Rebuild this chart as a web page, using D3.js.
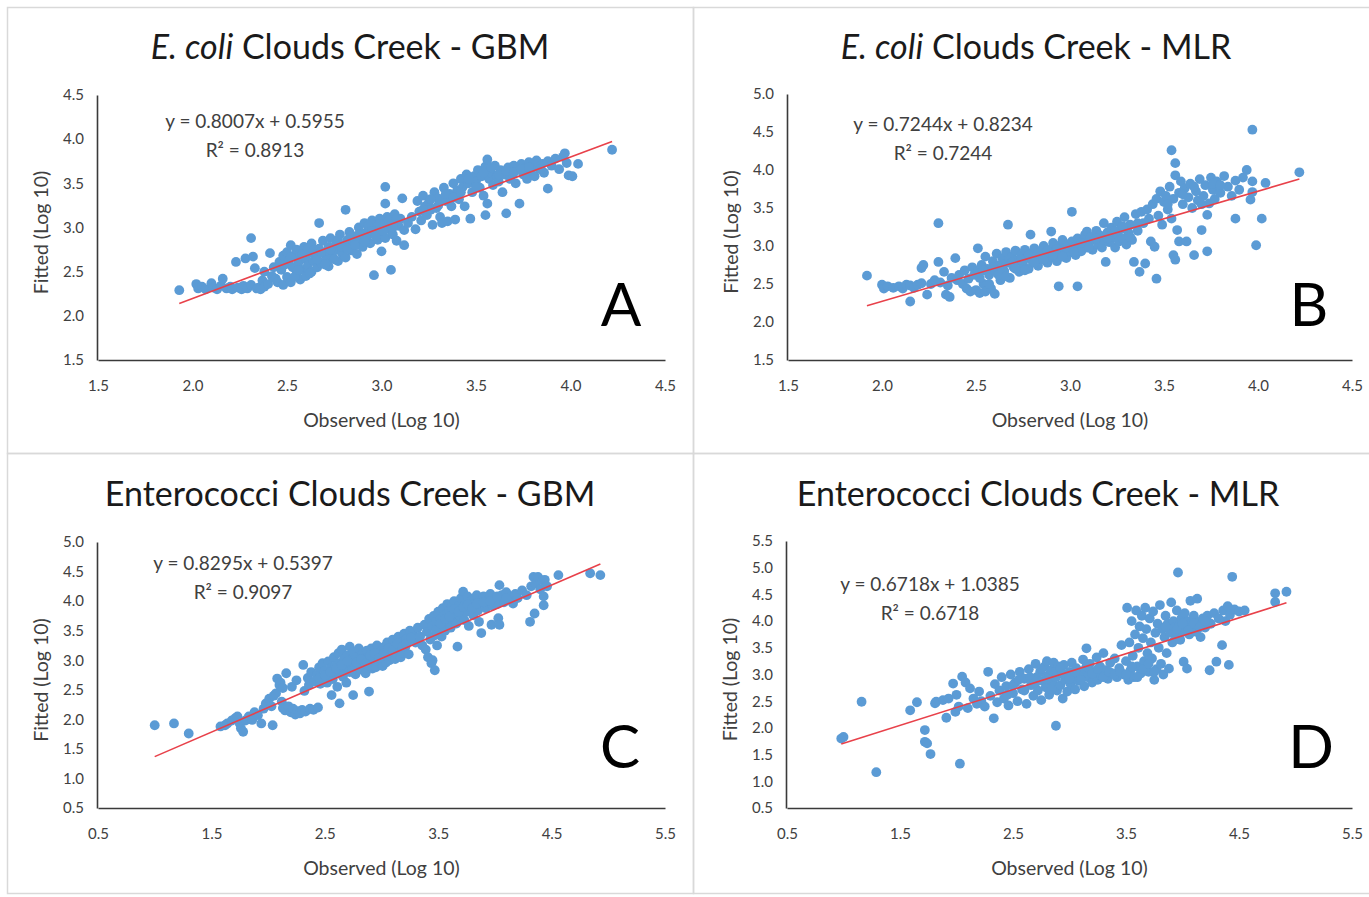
<!DOCTYPE html>
<html>
<head>
<meta charset="utf-8">
<script src="https://cdn.jsdelivr.net/npm/d3@7"></script>
<style>
  body { margin: 0; background: #fff; }
  text { font-family: Lato, "Open Sans", sans-serif; }
</style>
</head>
<body>
<div id="chart-area"></div>
<script>
// observed / fitted pairs (log 10)
var ecoliGbm = [
  [1.93,2.29],[2.02,2.36],[2.03,2.31],[2.05,2.33],[2.07,2.30],[2.10,2.37],[2.11,2.32],[2.13,2.30],[2.15,2.34],[2.16,2.42],
  [2.18,2.31],[2.20,2.33],[2.21,2.30],[2.23,2.61],[2.24,2.32],[2.26,2.30],[2.27,2.34],[2.28,2.65],[2.29,2.31],[2.31,2.88],
  [2.31,2.35],[2.32,2.67],[2.33,2.54],[2.34,2.31],[2.35,2.32],[2.36,2.30],[2.37,2.40],[2.38,2.50],[2.38,2.33],[2.40,2.36],
  [2.41,2.71],[2.42,2.45],[2.43,2.55],[2.44,2.42],[2.45,2.38],[2.46,2.61],[2.47,2.52],[2.48,2.68],[2.48,2.35],[2.49,2.58],
  [2.50,2.72],[2.50,2.44],[2.51,2.63],[2.52,2.38],[2.52,2.80],[2.53,2.55],[2.54,2.68],[2.55,2.47],[2.55,2.75],[2.56,2.60],
  [2.57,2.41],[2.57,2.70],[2.58,2.52],[2.59,2.78],[2.60,2.64],[2.60,2.45],[2.61,2.57],[2.62,2.72],[2.63,2.50],[2.63,2.82],
  [2.64,2.62],[2.65,2.68],[2.66,2.55],[2.67,3.05],[2.67,2.76],[2.68,2.60],[2.69,2.85],[2.70,2.70],[2.71,2.63],[2.72,2.78],
  [2.72,2.56],[2.73,2.88],[2.74,2.67],[2.75,2.74],[2.76,2.82],[2.77,2.62],[2.78,2.92],[2.79,2.71],[2.80,2.80],[2.81,3.20],
  [2.81,2.66],[2.82,2.86],[2.83,2.95],[2.84,2.74],[2.85,2.83],[2.86,2.90],[2.87,2.70],[2.88,3.00],[2.89,2.86],[2.90,2.93],
  [2.90,2.78],[2.91,3.05],[2.92,2.89],[2.93,2.97],[2.94,2.82],[2.95,3.08],[2.96,2.46],[2.96,2.92],[2.97,3.00],[2.98,2.86],
  [2.99,3.10],[3.00,2.95],[3.00,2.73],[3.01,3.03],[3.02,3.46],[3.02,3.27],[3.02,2.88],[3.03,3.12],[3.04,2.98],[3.05,2.52],
  [3.05,3.06],[3.06,2.92],[3.07,3.15],[3.08,2.85],[3.09,3.02],[3.10,3.10],[3.11,3.33],[3.12,2.80],[3.12,2.97],[3.14,3.05],
  [3.16,3.12],[3.18,2.98],[3.19,3.30],[3.20,3.18],[3.21,3.08],[3.22,3.36],[3.23,3.24],[3.24,3.14],[3.25,3.28],[3.26,3.20],
  [3.27,3.03],[3.28,3.40],[3.29,3.22],[3.30,3.33],[3.31,3.12],[3.32,3.05],[3.33,3.45],[3.34,3.30],[3.35,3.07],[3.36,3.38],
  [3.37,3.24],[3.38,3.50],[3.39,3.09],[3.40,3.42],[3.41,3.32],[3.42,3.55],[3.43,3.46],[3.44,3.24],[3.45,3.60],[3.46,3.50],
  [3.47,3.10],[3.48,3.40],[3.49,3.58],[3.50,3.52],[3.51,3.65],[3.52,3.45],[3.53,3.58],[3.54,3.36],[3.55,3.14],[3.55,3.69],
  [3.56,3.77],[3.56,3.27],[3.57,3.55],[3.58,3.62],[3.59,3.48],[3.60,3.70],[3.61,3.58],[3.62,3.52],[3.63,3.65],[3.64,3.40],
  [3.65,3.60],[3.66,3.16],[3.67,3.68],[3.68,3.55],[3.69,3.62],[3.70,3.70],[3.71,3.50],[3.72,3.66],[3.73,3.27],[3.74,3.72],
  [3.75,3.60],[3.76,3.67],[3.77,3.55],[3.78,3.74],[3.79,3.64],[3.80,3.70],[3.81,3.58],[3.82,3.76],[3.83,3.68],[3.85,3.72],
  [3.86,3.62],[3.88,3.44],[3.88,3.75],[3.90,3.70],[3.92,3.78],[3.94,3.66],[3.96,3.80],[3.97,3.84],[3.98,3.73],[3.99,3.59],
  [4.01,3.58],[4.04,3.72],[4.22,3.88],
  [2.52,2.66],[2.54,2.44],[2.56,2.52],[2.58,2.70],[2.61,2.76],[2.62,2.48],[2.64,2.74],[2.66,2.64],[2.68,2.72],[2.70,2.58],
  [2.73,2.75],[2.75,2.64],[2.77,2.86],[2.79,2.78],[2.82,2.76],[2.84,2.90],[2.86,2.80],[2.88,2.92],[2.91,2.84],[2.93,3.02],
  [2.95,2.96],[2.97,2.90],[2.99,3.04],[3.01,2.96],[3.04,3.08],[3.06,3.00],[3.08,3.10],[3.22,3.20],[3.26,3.32],[3.30,3.25],
  [3.34,3.38],[3.38,3.34],[3.42,3.40],[3.46,3.55],[3.50,3.46],[3.54,3.62],[3.58,3.68],[3.62,3.60],[3.66,3.64],[3.70,3.62],
  [3.74,3.66],[3.78,3.68],[3.84,3.66]
];

var ecoliMlr = [
  [1.92,2.61],[2.00,2.49],[2.01,2.44],[2.03,2.47],[2.06,2.45],[2.09,2.47],[2.11,2.44],[2.13,2.49],[2.15,2.27],[2.15,2.48],
  [2.17,2.45],[2.19,2.49],[2.21,2.51],[2.21,2.71],[2.22,2.75],[2.24,2.36],[2.26,2.50],[2.28,2.55],[2.30,3.30],[2.30,2.79],
  [2.31,2.52],[2.33,2.66],[2.34,2.36],[2.35,2.48],[2.36,2.33],[2.37,2.58],[2.39,2.84],[2.40,2.55],[2.41,2.62],[2.43,2.50],
  [2.44,2.68],[2.45,2.44],[2.46,2.57],[2.47,2.40],[2.48,2.72],[2.49,2.62],[2.50,2.42],[2.51,2.97],[2.51,2.66],[2.52,2.38],
  [2.53,2.75],[2.54,2.50],[2.55,2.86],[2.55,2.40],[2.56,2.70],[2.57,2.62],[2.58,2.44],[2.59,2.80],[2.60,2.68],[2.60,2.37],
  [2.61,2.90],[2.62,2.74],[2.63,2.55],[2.64,2.84],[2.65,2.67],[2.66,2.92],[2.67,3.28],[2.67,2.78],[2.68,2.58],[2.69,2.86],
  [2.70,2.72],[2.71,2.94],[2.72,2.81],[2.73,2.66],[2.74,2.88],[2.75,2.76],[2.76,2.95],[2.77,2.84],[2.78,2.70],[2.79,3.15],
  [2.79,2.90],[2.80,2.80],[2.81,2.97],[2.82,2.86],[2.83,2.74],[2.84,2.93],[2.85,2.83],[2.86,3.00],[2.87,2.88],[2.88,2.78],
  [2.89,2.95],[2.90,3.19],[2.90,2.86],[2.91,3.04],[2.92,2.92],[2.93,2.80],[2.94,2.47],[2.94,3.00],[2.95,2.90],[2.96,3.08],
  [2.97,2.95],[2.98,2.84],[2.99,3.02],[3.00,2.92],[3.01,3.45],[3.01,3.06],[3.02,2.98],[3.03,2.88],[3.04,2.47],[3.04,3.10],
  [3.05,3.00],[3.06,2.93],[3.07,3.08],[3.08,3.15],[3.09,3.19],[3.09,2.98],[3.10,3.04],[3.11,3.12],[3.12,2.95],[3.13,3.08],
  [3.14,3.20],[3.15,3.02],[3.16,3.14],[3.17,2.98],[3.18,3.30],[3.18,3.08],[3.19,2.79],[3.20,3.18],[3.21,3.05],[3.22,3.24],
  [3.23,3.12],[3.24,2.98],[3.25,3.32],[3.25,3.16],[3.26,3.06],[3.27,3.22],[3.28,3.10],[3.29,3.38],[3.30,3.02],[3.31,3.18],
  [3.32,3.28],[3.33,3.08],[3.34,2.79],[3.35,3.42],[3.36,3.20],[3.37,2.66],[3.38,3.45],[3.39,3.30],[3.40,2.77],[3.41,3.48],
  [3.42,3.36],[3.43,3.06],[3.44,3.55],[3.45,2.99],[3.46,2.57],[3.46,3.62],[3.47,3.40],[3.48,3.72],[3.49,3.28],[3.50,3.58],
  [3.51,3.66],[3.52,3.48],[3.53,3.78],[3.54,4.26],[3.54,3.36],[3.55,2.88],[3.55,3.62],[3.56,4.09],[3.56,3.93],[3.56,2.82],
  [3.57,3.21],[3.58,3.06],[3.58,3.70],[3.59,3.85],[3.60,3.55],[3.61,3.76],[3.62,3.06],[3.63,3.64],[3.64,3.82],[3.65,3.50],
  [3.66,2.88],[3.67,3.72],[3.68,3.60],[3.69,3.88],[3.70,3.21],[3.71,3.66],[3.72,3.80],[3.73,3.41],[3.73,2.93],[3.74,3.56],
  [3.75,3.90],[3.76,3.74],[3.77,3.62],[3.78,3.85],[3.80,3.70],[3.82,3.92],[3.84,3.78],[3.86,3.66],[3.88,3.36],[3.88,3.86],
  [3.90,3.74],[3.92,3.90],[3.94,4.00],[3.96,3.61],[3.97,3.71],[3.97,3.85],[3.97,4.53],[3.99,3.01],[4.02,3.36],[4.04,3.83],
  [4.22,3.97],
  [2.52,2.58],[2.54,2.68],[2.57,2.50],[2.59,2.72],[2.62,2.62],[2.64,2.76],[2.66,2.60],[2.69,2.78],[2.71,2.70],[2.74,2.82],
  [2.76,2.68],[2.78,2.88],[2.81,2.78],[2.83,2.90],[2.86,2.82],[2.88,2.94],[2.91,2.88],[2.93,2.96],[2.96,2.86],[2.98,2.98],
  [3.02,2.92],[3.06,3.04],[3.10,2.98],[3.14,3.10],[3.20,3.10],[3.24,3.20],[3.28,3.26],[3.32,3.12],[3.36,3.30],[3.52,3.55],
  [3.60,3.68],[3.66,3.78],[3.70,3.55],[3.76,3.82],[3.80,3.80]
];

var enteroGbm = [
  [1.00,1.90],[1.17,1.93],[1.30,1.76],[1.58,1.88],[1.62,1.90],[1.64,1.93],[1.68,1.98],[1.71,2.02],[1.73,2.05],[1.75,1.93],
  [1.76,1.85],[1.78,1.79],[1.80,1.98],[1.83,2.05],[1.86,1.99],[1.88,2.12],[1.91,2.07],[1.94,1.93],[1.96,2.18],[1.98,2.27],
  [2.01,2.35],[2.03,2.22],[2.04,1.90],[2.05,2.40],[2.07,2.44],[2.08,2.69],[2.10,2.58],[2.11,2.62],[2.12,2.30],[2.13,2.53],
  [2.13,2.19],[2.15,2.15],[2.16,2.78],[2.18,2.22],[2.20,2.12],[2.21,2.55],[2.22,2.18],[2.24,2.08],[2.25,2.66],[2.26,2.14],
  [2.28,2.10],[2.30,2.16],[2.31,2.92],[2.32,2.48],[2.33,2.13],[2.35,2.70],[2.36,2.58],[2.37,2.18],[2.38,2.80],[2.40,2.16],
  [2.41,2.64],[2.43,2.75],[2.44,2.20],[2.45,2.88],[2.46,2.60],[2.48,2.95],[2.49,2.70],[2.50,2.82],[2.52,2.62],[2.53,2.98],
  [2.54,2.75],[2.55,2.86],[2.56,2.41],[2.57,2.68],[2.58,3.05],[2.59,2.90],[2.60,2.78],[2.61,2.55],[2.62,3.12],[2.63,2.27],
  [2.63,2.95],[2.64,2.84],[2.65,3.18],[2.66,2.72],[2.67,3.02],[2.68,2.90],[2.69,2.62],[2.70,3.08],[2.71,2.96],[2.72,3.23],
  [2.72,2.80],[2.73,3.00],[2.74,2.88],[2.75,2.41],[2.75,3.14],[2.76,2.95],[2.77,2.76],[2.78,3.05],[2.79,2.90],[2.80,3.20],
  [2.81,2.98],[2.82,2.84],[2.83,3.10],[2.84,2.96],[2.85,3.02],[2.86,2.78],[2.87,3.16],[2.88,2.92],[2.89,2.47],[2.89,3.06],
  [2.90,2.98],[2.91,3.20],[2.92,2.86],[2.93,3.10],[2.94,3.00],[2.95,2.88],[2.96,3.25],[2.97,3.06],[2.98,2.95],[2.99,3.14],
  [3.00,3.02],[3.01,2.90],[3.02,3.22],[3.03,3.08],[3.04,2.96],[3.05,3.30],[3.06,3.12],[3.07,3.00],[3.08,3.20],[3.09,3.06],
  [3.10,3.35],[3.11,3.15],[3.12,3.02],[3.13,3.25],[3.14,3.10],[3.15,3.40],[3.16,3.18],[3.17,3.05],[3.18,3.30],[3.19,3.12],
  [3.20,3.45],[3.21,3.22],[3.22,3.36],[3.24,3.10],[3.25,3.50],[3.28,3.45],[3.30,3.30],[3.32,3.55],[3.34,3.40],[3.36,3.25],
  [3.38,3.60],[3.39,3.18],[3.40,3.48],[3.41,3.05],[3.42,3.70],[3.43,3.35],[3.44,2.95],[3.45,3.00],[3.45,3.58],[3.46,3.75],
  [3.47,2.83],[3.47,3.42],[3.48,3.65],[3.49,3.25],[3.50,3.82],[3.51,3.55],[3.52,3.70],[3.53,3.40],[3.54,3.88],[3.55,3.62],
  [3.56,3.50],[3.57,3.78],[3.58,3.95],[3.59,3.66],[3.60,3.85],[3.61,3.55],[3.62,3.90],[3.63,3.72],[3.64,4.00],[3.65,3.80],
  [3.66,3.62],[3.67,3.23],[3.68,3.92],[3.69,3.75],[3.70,4.05],[3.71,3.86],[3.72,4.16],[3.73,3.68],[3.74,3.96],[3.75,3.82],
  [3.76,4.08],[3.77,3.58],[3.78,3.90],[3.80,4.02],[3.81,3.76],[3.82,3.95],[3.84,4.10],[3.85,3.84],[3.86,3.65],[3.88,3.46],
  [3.88,3.98],[3.90,4.08],[3.92,3.88],[3.94,4.02],[3.96,4.12],[3.97,3.60],[3.98,3.92],[4.00,4.05],[4.02,3.95],[4.03,3.71],
  [4.04,3.60],[4.04,4.27],[4.06,4.10],[4.08,3.98],[4.10,4.15],[4.12,4.02],[4.14,4.08],[4.16,3.96],[4.18,4.12],[4.20,4.05],
  [4.24,4.18],[4.28,4.10],[4.31,3.65],[4.32,4.25],[4.34,4.41],[4.35,3.79],[4.36,4.30],[4.38,4.41],[4.40,4.20],[4.42,4.35],
  [4.43,3.93],[4.43,4.08],[4.44,4.36],[4.46,4.25],[4.56,4.44],[4.84,4.47],[4.93,4.44],
  [2.45,2.70],[2.50,2.74],[2.55,2.80],[2.60,2.86],[2.65,2.92],[2.70,2.98],[2.74,2.82],[2.78,2.96],[2.82,3.02],[2.86,2.94],
  [2.90,3.08],[2.94,3.12],[2.98,3.04],[3.02,3.12],[3.06,3.20],[3.10,3.16],[3.14,3.28],[3.18,3.22],[3.22,3.28],[3.26,3.38],
  [3.48,3.50],[3.52,3.62],[3.56,3.70],[3.60,3.74],[3.64,3.86],[3.68,3.82],[3.72,3.90],[3.76,3.94],[3.80,3.88],[3.84,3.96],
  [3.90,3.98],[3.96,4.00],[4.02,4.08],[4.10,4.05]
];

var enteroMlr = [
  [0.98,1.80],[1.00,1.83],[1.16,2.49],[1.29,1.17],[1.59,2.33],[1.65,2.48],[1.72,1.96],[1.72,1.74],[1.74,1.71],[1.77,1.51],
  [1.81,2.46],[1.82,2.49],[1.88,2.52],[1.91,2.19],[1.93,2.55],[1.97,2.83],[1.99,2.30],[2.00,2.62],[2.02,2.40],[2.03,1.33],
  [2.05,2.96],[2.08,2.85],[2.10,2.37],[2.12,2.74],[2.15,2.55],[2.18,2.45],[2.20,2.68],[2.22,2.50],[2.25,2.40],[2.28,3.05],
  [2.30,2.60],[2.33,2.18],[2.34,2.82],[2.36,2.48],[2.38,2.70],[2.40,2.95],[2.42,2.55],[2.44,2.78],[2.46,2.42],[2.48,3.00],
  [2.50,2.65],[2.52,2.85],[2.54,2.50],[2.56,3.05],[2.58,2.72],[2.60,2.92],[2.62,2.45],[2.64,3.10],[2.66,2.80],[2.68,2.60],
  [2.70,3.20],[2.71,2.95],[2.72,2.70],[2.74,3.05],[2.75,2.52],[2.76,2.88],[2.78,3.15],[2.79,2.76],[2.80,3.25],[2.81,2.98],
  [2.82,2.62],[2.84,3.08],[2.85,2.85],[2.86,3.22],[2.88,2.04],[2.88,2.95],[2.89,2.70],[2.90,3.15],[2.92,2.80],[2.93,3.02],
  [2.94,2.55],[2.95,3.18],[2.96,2.90],[2.98,2.68],[3.00,3.05],[3.01,2.82],[3.02,3.22],[3.04,2.95],[3.05,2.72],[3.06,3.12],
  [3.08,2.88],[3.10,3.00],[3.12,3.28],[3.13,2.78],[3.14,3.10],[3.15,3.49],[3.16,2.95],[3.18,3.20],[3.20,2.85],[3.22,3.05],
  [3.24,3.32],[3.25,2.90],[3.27,3.15],[3.28,2.98],[3.30,3.40],[3.32,3.08],[3.34,2.92],[3.36,3.22],[3.38,3.02],[3.40,3.30],
  [3.42,2.95],[3.44,3.12],[3.46,3.55],[3.48,3.00],[3.50,3.25],[3.51,4.25],[3.52,2.90],[3.53,3.60],[3.54,3.08],[3.55,4.00],
  [3.56,3.35],[3.57,2.95],[3.58,3.75],[3.59,4.20],[3.60,3.15],[3.61,3.50],[3.62,3.90],[3.63,3.02],[3.64,4.10],[3.65,3.68],
  [3.66,3.25],[3.67,4.25],[3.68,3.85],[3.69,3.40],[3.70,3.05],[3.71,4.05],[3.72,3.60],[3.73,3.30],[3.74,4.18],[3.75,2.90],
  [3.76,3.78],[3.77,3.10],[3.78,3.95],[3.79,3.50],[3.80,4.30],[3.81,3.20],[3.82,3.85],[3.83,3.00],[3.84,3.70],[3.85,4.10],
  [3.86,3.40],[3.87,3.95],[3.88,3.11],[3.89,3.78],[3.90,4.35],[3.91,3.60],[3.92,4.00],[3.93,3.88],[3.94,3.72],[3.95,4.20],
  [3.96,4.91],[3.97,3.92],[3.98,3.65],[3.99,4.05],[4.00,3.80],[4.01,3.24],[4.02,4.15],[4.03,3.90],[4.04,3.11],[4.05,4.00],
  [4.06,3.75],[4.07,4.38],[4.08,3.95],[4.09,3.85],[4.10,4.10],[4.12,3.80],[4.13,4.42],[4.14,3.98],[4.16,3.70],[4.18,4.05],
  [4.20,3.88],[4.22,4.10],[4.24,3.08],[4.25,3.95],[4.28,4.15],[4.30,3.24],[4.32,4.05],[4.35,3.55],[4.36,4.20],[4.38,4.00],
  [4.40,4.28],[4.41,3.18],[4.42,4.12],[4.44,4.83],[4.46,4.22],[4.50,4.18],[4.55,4.20],[4.82,4.52],[4.82,4.36],[4.92,4.55],
  [2.45,2.62],[2.50,2.80],[2.55,2.90],[2.60,2.70],[2.65,2.95],[2.70,2.85],[2.75,3.10],[2.80,2.92],[2.84,2.72],[2.88,3.05],
  [2.92,3.12],[2.96,3.00],[3.00,2.92],[3.05,3.05],[3.10,2.90],[3.15,3.15],[3.20,3.02],[3.25,3.10],[3.30,2.95],[3.35,3.05],
  [3.40,3.00],[3.45,3.05],[3.50,3.00],[3.55,3.15],[3.60,2.95],[3.65,3.10],[3.70,3.20],[3.75,3.05],[3.85,3.90],[3.95,3.85],
  [4.00,3.95],[4.05,3.82],[4.10,3.95],[4.15,3.88],[4.20,4.00]
];

// trendline slope / intercept / R² as printed on each panel
var slopes = [0.8007, 0.7244, 0.8295, 0.6718];
var intercepts = [0.5955, 0.8234, 0.5397, 1.0385];
var rSquared = ["0.8913", "0.7244", "0.9097", "0.6718"];

var organisms = ["E. coli", "E. coli", "Enterococci", "Enterococci"];
var models = ["GBM", "MLR", "GBM", "MLR"];
var letters = ["A", "B", "C", "D"];

var ecoliXTicks = [1.5, 2.0, 2.5, 3.0, 3.5, 4.0, 4.5];
var ecoliGbmYTicks = [1.5, 2.0, 2.5, 3.0, 3.5, 4.0, 4.5];
var ecoliMlrYTicks = [1.5, 2.0, 2.5, 3.0, 3.5, 4.0, 4.5, 5.0];
var enteroXTicks = [0.5, 1.5, 2.5, 3.5, 4.5, 5.5];
var enteroGbmYTicks = [0.5, 1.0, 1.5, 2.0, 2.5, 3.0, 3.5, 4.0, 4.5, 5.0];
var enteroMlrYTicks = [0.5, 1.0, 1.5, 2.0, 2.5, 3.0, 3.5, 4.0, 4.5, 5.0, 5.5];

var svg = d3.select("#chart-area")
  .append("svg")
  .attr("width", 1369)
  .attr("height", 897);

svg.append("rect").attr("width", 1369).attr("height", 897).attr("fill", "#fff");

// panel layout: frame box, plot box, text positions
var panels = [
  { data: ecoliGbm, xt: ecoliXTicks, yt: ecoliGbmYTicks,
    frame: [7, 7, 686, 446], plot: [98, 665, 95, 360],
    titleX: 350, titleY: 59, eqX: 255, eqY: 128, letterX: 621, letterY: 326 },
  { data: ecoliMlr, xt: ecoliXTicks, yt: ecoliMlrYTicks,
    frame: [693, 7, 690, 446], plot: [788, 1352, 94, 360],
    titleX: 1036, titleY: 59, eqX: 943, eqY: 131, letterX: 1309, letterY: 326 },
  { data: enteroGbm, xt: enteroXTicks, yt: enteroGbmYTicks,
    frame: [7, 453, 686, 440], plot: [98, 665, 542, 808],
    titleX: 350, titleY: 506, eqX: 243, eqY: 570, letterX: 620, letterY: 768 },
  { data: enteroMlr, xt: enteroXTicks, yt: enteroMlrYTicks,
    frame: [693, 453, 690, 440], plot: [787, 1352, 541, 808],
    titleX: 1038, titleY: 506, eqX: 930, eqY: 591, letterX: 1311, letterY: 768 }
];

panels.forEach(function(p, i) {
  var g = svg.append("g");

  g.append("rect")
    .attr("x", p.frame[0] + 0.5)
    .attr("y", p.frame[1] + 0.5)
    .attr("width", p.frame[2])
    .attr("height", p.frame[3])
    .attr("fill", "none")
    .attr("stroke", "#d9d9d9")
    .attr("stroke-width", 1.5);

  var x = d3.scaleLinear()
    .domain([p.xt[0], p.xt[p.xt.length - 1]])
    .range([p.plot[0], p.plot[1]]);

  var y = d3.scaleLinear()
    .domain([p.yt[0], p.yt[p.yt.length - 1]])
    .range([p.plot[3], p.plot[2]]);

  // title, with the organism in italics for E. coli
  var title = g.append("text")
    .attr("x", p.titleX)
    .attr("y", p.titleY)
    .attr("text-anchor", "middle")
    .attr("font-size", "34px")
    .attr("fill", "#1a1a1a");
  if (organisms[i] === "E. coli") {
    title.append("tspan").attr("font-style", "italic").text(organisms[i]);
    title.append("tspan").text(" Clouds Creek - " + models[i]);
  } else {
    title.text(organisms[i] + " Clouds Creek - " + models[i]);
  }

  // points
  g.append("g").selectAll("circle")
    .data(p.data)
    .enter()
    .append("circle")
    .attr("cx", d => x(d[0]))
    .attr("cy", d => y(d[1]))
    .attr("r", 4.9)
    .attr("fill", "#5b9bd5");

  // linear trendline over the observed range
  var xr = d3.extent(p.data, d => d[0]);
  g.append("line")
    .attr("x1", x(xr[0]))
    .attr("y1", y(slopes[i] * xr[0] + intercepts[i]))
    .attr("x2", x(xr[1]))
    .attr("y2", y(slopes[i] * xr[1] + intercepts[i]))
    .attr("stroke", "#e8414a")
    .attr("stroke-width", 1.6);

  var xAxisCall = d3.axisBottom(x)
    .tickValues(p.xt)
    .tickSize(0)
    .tickPadding(20)
    .tickFormat(d3.format(".1f"));
  g.append("g")
    .attr("transform", "translate(0," + p.plot[3] + ")")
    .call(xAxisCall);

  var yAxisCall = d3.axisLeft(y)
    .tickValues(p.yt)
    .tickSize(0)
    .tickPadding(13)
    .tickFormat(d3.format(".1f"));
  g.append("g")
    .attr("transform", "translate(" + (p.plot[0] - 1) + ",0)")
    .call(yAxisCall);

  g.selectAll(".domain")
    .attr("stroke", "#3a3a3a")
    .attr("stroke-width", 1.6);
  g.selectAll(".tick text")
    .attr("font-family", "Lato, sans-serif")
    .attr("font-size", "15px")
    .attr("fill", "#404040");

  g.append("text")
    .attr("x", (p.plot[0] + p.plot[1]) / 2)
    .attr("y", p.plot[3] + 67)
    .attr("text-anchor", "middle")
    .attr("font-size", "19.5px")
    .attr("fill", "#404040")
    .text("Observed (Log 10)");

  g.append("text")
    .attr("transform", "translate(" + (p.plot[0] - 50) + "," + ((p.plot[2] + p.plot[3]) / 2 + 5) + ") rotate(-90)")
    .attr("text-anchor", "middle")
    .attr("font-size", "19.5px")
    .attr("fill", "#404040")
    .text("Fitted (Log 10)");

  // regression equation
  var sign = intercepts[i] >= 0 ? " + " : " - ";
  g.append("text")
    .attr("x", p.eqX)
    .attr("y", p.eqY)
    .attr("text-anchor", "middle")
    .attr("font-size", "19px")
    .attr("fill", "#404040")
    .text("y = " + slopes[i].toFixed(4) + "x" + sign + Math.abs(intercepts[i]).toFixed(4));
  g.append("text")
    .attr("x", p.eqX)
    .attr("y", p.eqY + 29)
    .attr("text-anchor", "middle")
    .attr("font-size", "19px")
    .attr("fill", "#404040")
    .text("R\u00b2 = " + rSquared[i]);

  g.append("text")
    .attr("x", p.letterX)
    .attr("y", p.letterY)
    .attr("text-anchor", "middle")
    .attr("font-size", "60px")
    .attr("fill", "#000")
    .text(letters[i]);
});
</script>
</body>
</html>
